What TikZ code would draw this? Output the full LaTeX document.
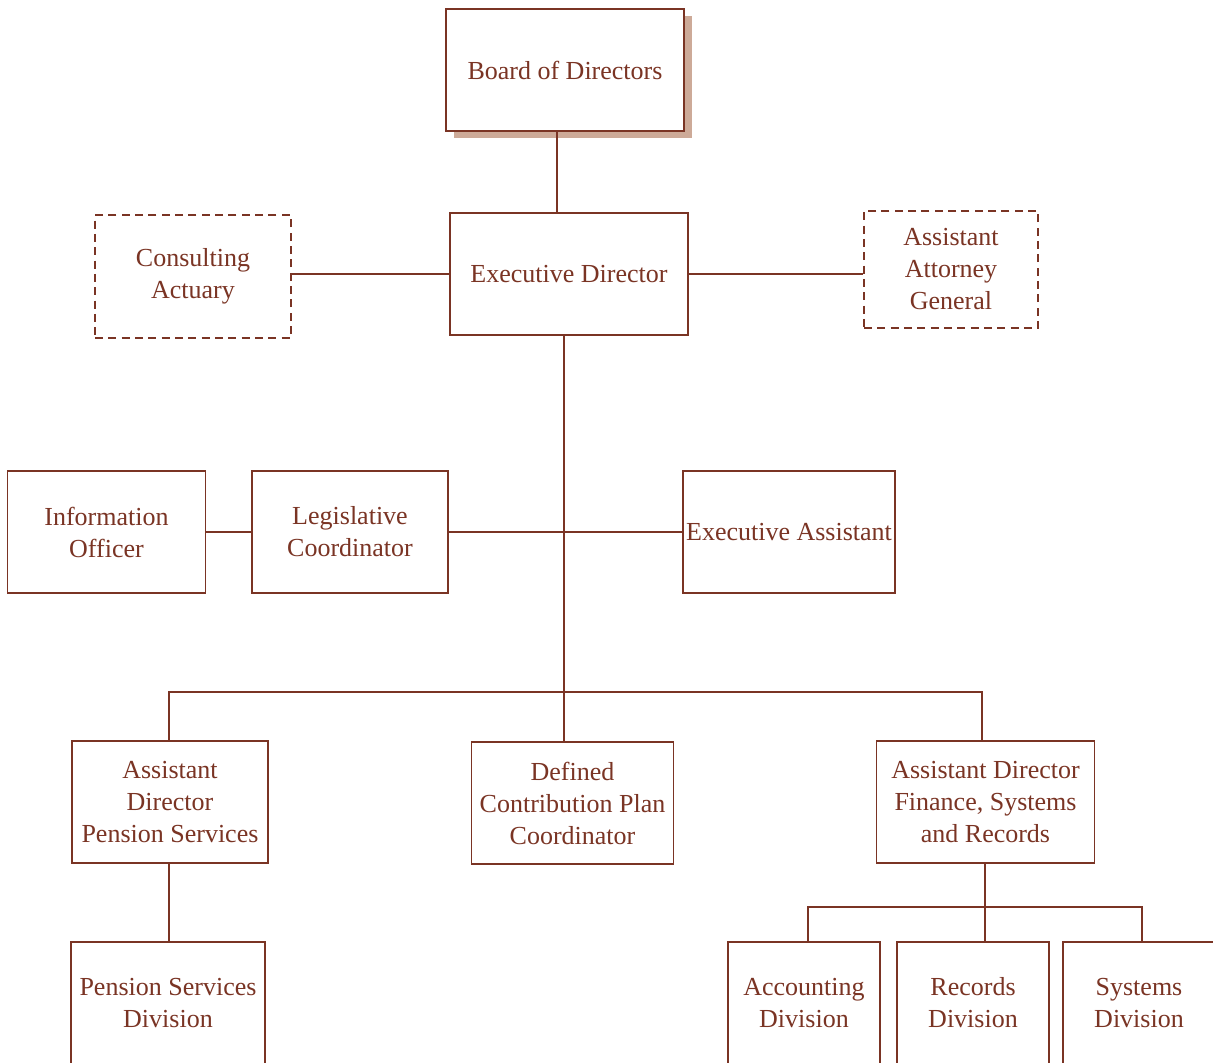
\documentclass[tikz,border=0pt]{standalone}
\usepackage{fontspec}
\setmainfont{Liberation Serif}
\usetikzlibrary{calc, shadows}
\definecolor{chartred}{HTML}{7A3424}
\definecolor{shadowtan}{HTML}{CDAA98}

\begin{document}
\begin{tikzpicture}[x=0.75pt, y=-0.75pt,
  unitbox/.style={draw=chartred, line width=0.9pt, fill=white, text=chartred, align=center,
    inner sep=0pt, font=\fontsize{19.5}{24}\selectfont},
  advisor/.style={unitbox, line width=1.5pt, dash pattern=on 6pt off 4pt},
  link/.style={chartred, line width=1.4pt}]
\useasboundingbox (0,0) rectangle (1213,1063);
\clip (0,0) rectangle (1213,1063);
% top of the chart
\node[unitbox, minimum width=178.5pt, minimum height=91.5pt,
  drop shadow={shadow xshift=6pt, shadow yshift=-5.5pt, fill=shadowtan, opacity=1}]
  (board) at (565,70) {Board of Directors};
\node[unitbox, minimum width=178.5pt, minimum height=91.5pt] (exec) at (569,274) {Executive Director};
\node[advisor, minimum width=147pt, minimum height=92pt] (actuary) at (193,276.5) {Consulting\\Actuary};
\node[advisor, minimum width=130.5pt, minimum height=88pt] (attorney) at (951,269.5) {Assistant\\Attorney\\General};
% staff row
\node[unitbox, minimum width=148pt, minimum height=91.5pt] (info) at (106.5,532) {Information\\Officer};
\node[unitbox, minimum width=147pt, minimum height=91.5pt] (legis) at (350,532) {Legislative\\Coordinator};
\node[unitbox, minimum width=159pt, minimum height=91.5pt] (easst) at (789,532) {Executive Assistant};
% assistant directors
\node[unitbox, minimum width=147pt, minimum height=91.5pt] (pension) at (170,802) {Assistant\\Director\\Pension Services};
\node[unitbox, minimum width=151pt, minimum height=91.5pt] (dc) at (572.5,803) {Defined\\Contribution Plan\\Coordinator};
\node[unitbox, minimum width=164pt, minimum height=91.5pt] (finance) at (985.5,802) {Assistant Director\\Finance, Systems\\and Records};
% divisions
\node[unitbox, minimum width=145.5pt, minimum height=91.5pt] (pensiondiv) at (168,1003) {Pension Services\\Division};
\node[unitbox, minimum width=114pt, minimum height=91.5pt] (accounting) at (804,1003) {Accounting\\Division};
\node[unitbox, minimum width=114pt, minimum height=91.5pt] (records) at (973,1003) {Records\\Division};
\node[unitbox, minimum width=114pt, minimum height=91.5pt] (systems) at (1139,1003) {Systems\\Division};
\coordinate (bus) at (564,692);
\coordinate (subbus) at (985,907);
% connectors
\draw[link] ([xshift=-6pt]board.south) -- ([xshift=-6pt]board.south |- exec.north);
\draw[link] (exec.west -| actuary.east) -- (exec.west);
\draw[link] (exec.east) -- (exec.east -| attorney.west);
\draw[link] (exec.south -| bus) -- (dc.north -| bus);
\draw[link] (info.east) -- (legis.west);
\draw[link] (legis.east) -- (easst.west);
\draw[link] ([xshift=-0.75pt]pension.north) |- (bus) -| ([xshift=-2.5pt]finance.north);
\draw[link] ([xshift=-0.75pt]pension.south) -- ([xshift=-0.75pt]pension.south |- pensiondiv.north);
\draw[link] (finance.south -| subbus) -- (records.north -| subbus);
\draw[link] ([xshift=3pt]accounting.north) |- (subbus) -| ([xshift=2.25pt]systems.north);
\end{tikzpicture}
\end{document}
